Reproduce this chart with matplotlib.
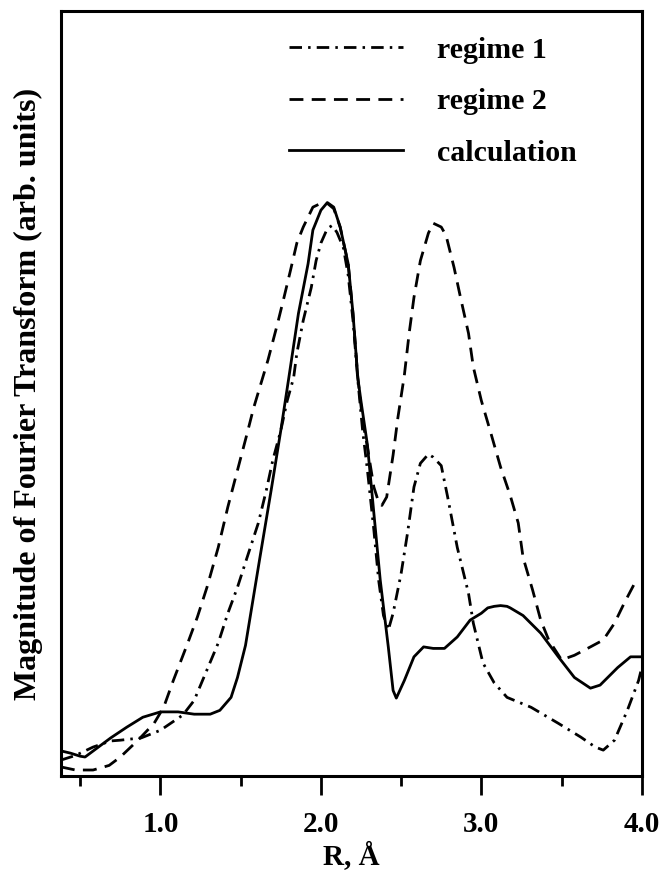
import numpy as np
import matplotlib
matplotlib.use('Agg')
import matplotlib.pyplot as plt
from matplotlib.ticker import FixedLocator, FormatStrFormatter

plt.rcParams['font.family'] = ['Liberation Serif', 'DejaVu Serif']
plt.rcParams['font.weight'] = 'bold'

# calculation (solid)
r_calc = [0.38, 0.44, 0.50, 0.53, 0.69, 0.79, 0.89, 1.00, 1.11, 1.21, 1.31, 1.37,
          1.44, 1.48, 1.53, 1.62, 1.69, 1.75, 1.80, 1.86, 1.92, 1.95, 2.00, 2.04,
          2.08, 2.12, 2.17, 2.20, 2.23, 2.25, 2.29, 2.33, 2.37, 2.42, 2.45, 2.47,
          2.52, 2.58, 2.64, 2.70, 2.77, 2.85, 2.93, 3.00, 3.04, 3.08, 3.12, 3.16,
          3.18, 3.26, 3.37, 3.48, 3.58, 3.68, 3.74, 3.85, 3.93, 4.00]
y_calc = [3.3, 3.0, 2.6, 2.5, 5.0, 6.4, 7.7, 8.4, 8.4, 8.1, 8.1, 8.6,
          10.3, 12.9, 17.1, 28.6, 37.4, 45.2, 52.1, 60.5, 67.0, 71.4, 74.0, 75.0,
          74.4, 71.8, 67.0, 60.5, 52.1, 49.0, 43.3, 34.4, 25.6, 16.9, 11.2, 10.2,
          12.5, 15.6, 16.9, 16.7, 16.7, 18.2, 20.4, 21.3, 22.0, 22.2, 22.3, 22.2,
          22.0, 21.0, 18.7, 15.6, 12.9, 11.5, 11.9, 14.2, 15.6, 15.6]

# regime 2 (dashed)
r_reg2 = [0.38, 0.47, 0.58, 0.68, 0.75, 0.86, 0.96, 1.02, 1.08, 1.17, 1.23, 1.29,
          1.36, 1.42, 1.48, 1.54, 1.58, 1.67, 1.73, 1.77, 1.81, 1.85, 1.89, 1.95,
          2.00, 2.04, 2.08, 2.12, 2.17, 2.20, 2.23, 2.26, 2.29, 2.33, 2.36, 2.38,
          2.41, 2.45, 2.48, 2.52, 2.55, 2.58, 2.62, 2.67, 2.70, 2.75, 2.78, 2.83,
          2.87, 2.92, 2.95, 3.00, 3.06, 3.12, 3.18, 3.23, 3.26, 3.32, 3.37, 3.42,
          3.50, 3.58, 3.68, 3.76, 3.83, 3.89, 3.95]
y_reg2 = [1.2, 0.8, 0.8, 1.4, 2.5, 4.7, 6.9, 9.0, 12.5, 17.4, 20.8, 24.7,
          29.9, 35.2, 40.0, 44.8, 48.1, 54.4, 59.2, 62.6, 66.1, 69.7, 71.8, 74.4,
          74.9, 74.9, 74.2, 71.8, 67.0, 60.5, 52.1, 46.5, 43.0, 37.8, 35.8, 35.4,
          36.5, 42.0, 46.9, 52.4, 57.9, 62.6, 67.4, 71.0, 72.3, 71.8, 70.7, 66.5,
          62.6, 57.9, 53.5, 49.1, 44.8, 40.4, 36.7, 33.1, 28.6, 24.3, 20.4, 17.8,
          15.2, 15.8, 16.9, 17.8, 20.0, 22.6, 25.0]

# regime 1 (dash-dot)
r_reg1 = [0.38, 0.47, 0.58, 0.69, 0.75, 0.88, 1.00, 1.14, 1.21, 1.29, 1.36, 1.42,
          1.48, 1.54, 1.61, 1.66, 1.70, 1.75, 1.79, 1.83, 1.85, 1.89, 1.94, 1.97,
          2.00, 2.04, 2.07, 2.10, 2.14, 2.17, 2.20, 2.23, 2.26, 2.29, 2.33, 2.36,
          2.39, 2.42, 2.45, 2.50, 2.54, 2.58, 2.62, 2.67, 2.70, 2.75, 2.79, 2.85,
          2.92, 2.95, 3.01, 3.08, 3.16, 3.31, 3.48, 3.62, 3.71, 3.76, 3.83, 3.91,
          3.98, 4.00]
y_reg1 = [2.1, 2.7, 3.8, 4.6, 4.7, 5.0, 6.0, 8.0, 9.9, 13.9, 17.4, 21.3,
          24.7, 28.6, 33.1, 37.4, 41.3, 45.2, 49.1, 52.1, 55.3, 59.6, 63.9, 67.4,
          69.7, 71.6, 72.0, 71.1, 69.1, 65.5, 59.6, 51.8, 45.2, 40.0, 32.2, 25.6,
          21.0, 19.1, 21.3, 26.5, 31.8, 37.8, 40.9, 42.1, 41.7, 40.6, 36.5, 29.9,
          23.9, 20.0, 14.8, 12.2, 10.3, 9.0, 6.9, 5.1, 3.8, 3.4, 4.7, 8.6,
          12.5, 14.2]

labels = ['regime 1', 'regime 2', 'calculation']
major_ticks = [1.0, 2.0, 3.0, 4.0]
minor_ticks = [0.5, 1.5, 2.5, 3.5]

fig = plt.figure(figsize=(6.63, 8.75), dpi=100)
ax = fig.add_axes([0.092, 0.113, 0.876, 0.874])

ax.plot(r_reg1, y_reg1, color='k', lw=2.0, dashes=(4.5, 2.2, 0.9, 2.2),
        solid_joinstyle='round', dash_joinstyle='round', label=labels[0])
ax.plot(r_reg2, y_reg2, color='k', lw=2.0, dashes=(5, 3),
        dash_joinstyle='round', label=labels[1])
ax.plot(r_calc, y_calc, color='k', lw=2.0, solid_joinstyle='round', label=labels[2])

ax.set_xlim(0.38, 4.0)
ax.set_ylim(0, 100)

ax.xaxis.set_major_locator(FixedLocator(major_ticks))
ax.xaxis.set_minor_locator(FixedLocator(minor_ticks))
ax.xaxis.set_major_formatter(FormatStrFormatter('%.1f'))
ax.tick_params(axis='x', which='major', direction='out', length=14, width=2,
               labelsize=21, pad=11)
ax.tick_params(axis='x', which='minor', direction='out', length=7, width=2)
ax.set_yticks([])
for sp in ax.spines.values():
    sp.set_linewidth(2.2)

ax.set_xlabel('R, Å', fontsize=21, fontweight='bold', labelpad=3)
ax.set_ylabel('Magnitude of Fourier Transform (arb. units)', fontsize=23,
              fontweight='bold', labelpad=13)

ax.legend(loc='upper right', bbox_to_anchor=(0.888, 0.967), frameon=False,
          fontsize=21.5, handlelength=3.8, handletextpad=1.15, labelspacing=0.82,
          borderpad=0, borderaxespad=0)

fig.savefig('out.png', dpi=100)
